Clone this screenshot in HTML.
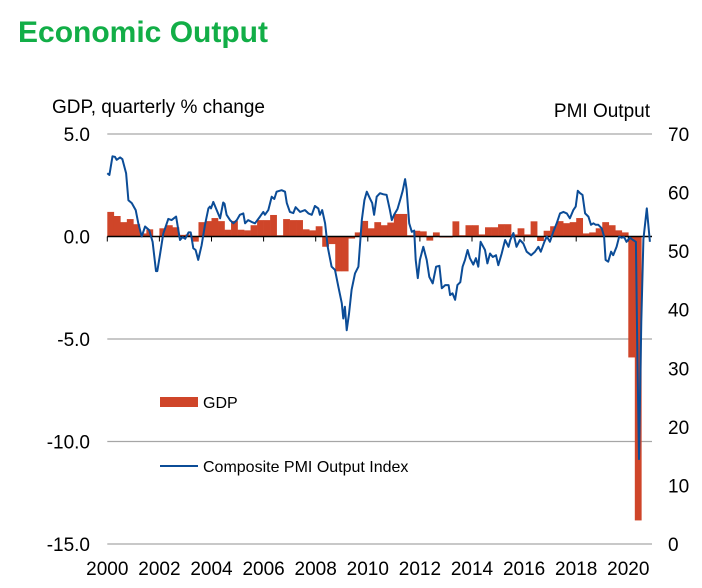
<!DOCTYPE html>
<html><head><meta charset="utf-8"><style>
html,body{margin:0;padding:0;background:#fff;}
svg{display:block;font-family:"Liberation Sans",Arial,sans-serif;}
</style></head><body>
<svg id="chart" width="702" height="588" viewBox="0 0 702 588" xmlns="http://www.w3.org/2000/svg">
<text x="18" y="42" font-size="30" font-weight="bold" fill="#12AE47">Economic Output</text>
<text x="52" y="113" font-size="19" fill="#000">GDP, quarterly % change</text>
<text x="650" y="117" font-size="19" fill="#000" text-anchor="end">PMI Output</text>
<g id="grid"></g><g id="bars"></g><g id="zero"></g><g id="line"></g><g id="axes"></g>
<g>
<rect x="160" y="397" width="38" height="10" fill="#CF4529"/>
<text x="203" y="408" font-size="16">GDP</text>
<line x1="160" y1="466" x2="198" y2="466" stroke="#0B4C97" stroke-width="2"/>
<text x="203" y="472" font-size="16">Composite PMI Output Index</text>
</g>
</svg>
<script>
const gdpStartYear = 2000;
const gdpValues = [1.2,1.0,0.7,0.85,0.6,0.15,0.35,0.0,0.4,0.55,0.45,0.08,0.1,-0.25,0.7,0.75,
0.9,0.75,0.33,0.76,0.33,0.3,0.55,0.8,0.8,1.05,0.06,0.85,0.8,0.8,0.35,0.3,
0.5,-0.5,-0.37,-1.7,-1.7,-0.1,0.2,0.76,0.4,0.7,0.55,0.68,1.1,1.1,0.06,0.28,
0.25,-0.2,0.2,-0.05,-0.05,0.74,0.06,0.55,0.55,0.1,0.45,0.45,0.6,0.6,0.1,0.4,
0.1,0.74,-0.22,0.28,0.5,0.75,0.65,0.7,0.9,0.15,0.2,0.4,0.7,0.55,0.3,0.2,
-5.9,-13.85];
const pmiDates = [2000.0,2000.08,2000.2,2000.29,2000.36,2000.49,2000.58,2000.72,2000.81,2000.94,2001.09,2001.19,2001.32,2001.45,2001.61,2001.74,2001.87,2001.92,2002.02,2002.15,2002.34,2002.47,2002.64,2002.79,2002.89,2002.99,2003.12,2003.2,2003.3,2003.39,2003.49,2003.62,2003.75,2003.88,2003.94,2003.98,2004.07,2004.2,2004.33,2004.45,2004.5,2004.58,2004.71,2004.84,2004.97,2005.09,2005.22,2005.29,2005.41,2005.54,2005.67,2005.86,2005.99,2006.05,2006.18,2006.31,2006.41,2006.5,2006.69,2006.82,2006.89,2007.01,2007.14,2007.23,2007.4,2007.59,2007.72,2007.85,2007.97,2008.1,2008.16,2008.25,2008.36,2008.46,2008.61,2008.74,2008.87,2009.0,2009.06,2009.12,2009.19,2009.28,2009.38,2009.51,2009.64,2009.77,2009.87,2009.96,2010.08,2010.17,2010.24,2010.34,2010.47,2010.6,2010.72,2010.85,2010.92,2011.01,2011.14,2011.26,2011.34,2011.43,2011.49,2011.59,2011.69,2011.78,2011.84,2011.92,2012.0,2012.13,2012.26,2012.36,2012.49,2012.62,2012.75,2012.84,2012.97,2013.1,2013.16,2013.25,2013.35,2013.44,2013.55,2013.64,2013.73,2013.83,2013.92,2014.05,2014.15,2014.24,2014.33,2014.5,2014.59,2014.69,2014.8,2014.92,2015.01,2015.14,2015.27,2015.4,2015.47,2015.59,2015.71,2015.84,2015.97,2016.1,2016.27,2016.42,2016.55,2016.64,2016.78,2016.87,2016.99,2017.12,2017.25,2017.38,2017.51,2017.64,2017.76,2017.89,2017.98,2018.06,2018.15,2018.24,2018.34,2018.47,2018.57,2018.66,2018.75,2018.85,2018.98,2019.07,2019.13,2019.23,2019.34,2019.42,2019.55,2019.65,2019.74,2019.84,2019.93,2020.06,2020.18,2020.29,2020.35,2020.41,2020.5,2020.58,2020.71,2020.83];
const pmiValues = [63.3,63.0,66.2,66.1,65.6,66.0,65.7,63.3,58.7,58.2,57.0,54.75,52.5,54.2,53.6,51.6,46.6,46.6,49.3,53.0,55.5,55.3,55.9,51.9,52.4,52.1,53.2,53.2,50.5,50.2,48.5,51.0,54.5,57.3,57.6,57.3,58.4,57.0,55.6,58.3,58.1,56.2,55.3,54.75,55.3,56.2,56.45,54.75,55.3,55.0,54.75,55.9,56.7,56.2,57.0,59.3,58.9,60.15,60.4,60.15,58.2,56.7,56.5,57.5,56.7,57.0,56.45,56.2,57.7,57.3,56.2,57.0,54.75,50.75,47.35,46.8,43.9,41.1,38.5,40.5,36.5,39.3,43.4,46.2,47.35,55.3,58.7,60.15,59.0,58.2,56.2,59.3,59.9,59.7,59.6,57.0,55.3,56.2,57.2,59.0,60.3,62.3,60.6,54.75,53.3,53.5,48.5,45.4,48.5,50.75,48.5,45.6,44.5,47.35,47.5,43.65,44.2,44.2,42.5,42.8,41.7,44.2,44.7,47.35,48.5,50.2,48.8,47.7,48.8,47.35,51.6,50.2,47.9,49.6,49.0,49.3,47.6,49.6,51.9,50.75,51.9,53.1,50.75,51.9,51.3,49.9,49.3,49.9,50.75,49.9,51.6,52.5,51.6,53.3,54.75,56.45,56.7,56.45,55.6,57.0,57.6,60.3,59.9,59.6,56.45,55.9,54.5,54.75,54.5,54.5,53.9,52.5,48.5,48.2,49.9,49.3,50.75,52.5,52.3,52.4,51.6,52.3,51.9,51.6,32.0,14.5,38.0,52.0,57.3,51.6];
const leftTicks = [5,0,-5,-10,-15];
const leftTickLabels = ["5.0","0.0","-5.0","-10.0","-15.0"];
const rightTicks = [70,60,50,40,30,20,10,0];
const xTicks = [2000,2002,2004,2006,2008,2010,2012,2014,2016,2018,2020];

const NS="http://www.w3.org/2000/svg";
const X0=107.3, X1=652, YEARW=26.05;
const xs = t => X0 + (t-2000)*YEARW;
const yL = v => 134 + (5-v)*20.5;
const yR = v => 134 + (70-v)*(410/70);
function mk(tag, attrs, parent){const e=document.createElementNS(NS,tag);for(const k in attrs)e.setAttribute(k,attrs[k]);parent.appendChild(e);return e;}
const grid=document.getElementById('grid'), bars=document.getElementById('bars'), zero=document.getElementById('zero'), line=document.getElementById('line'), axes=document.getElementById('axes');

leftTicks.forEach((v,i)=>{
  if(v!==0){const g=mk('line',{x1:X0,x2:X1,y1:yL(v),y2:yL(v),stroke:'#A6A6A6','stroke-width':1.3},grid);
  
  }
  const t=mk('text',{x:90,y:yL(v)+7,'font-size':19,'text-anchor':'end'},axes);
  t.textContent=leftTickLabels[i];
  
  
});
rightTicks.forEach(v=>{
  const t=mk('text',{x:668,y:yR(v)+7,'font-size':19},axes);
  t.textContent=String(v);
  
  
});
xTicks.forEach(v=>{
  const t=mk('text',{x:xs(v),y:575,'font-size':19,'text-anchor':'middle'},axes);
  t.textContent=String(v);
  
  
  const k=mk('line',{x1:xs(v),x2:xs(v),y1:yL(0),y2:yL(0)+5,stroke:'#000','stroke-width':1},zero);
  
  
});
gdpValues.forEach((v,i)=>{
  const a=xs(gdpStartYear+i/4), b=xs(gdpStartYear+(i+1)/4);
  const y0=yL(0), y1=yL(v);
  const r=mk('rect',{x:a,width:b-a+0.3,y:Math.min(y0,y1),height:Math.abs(y1-y0),fill:'#CF4529'},bars);
  
  
});
const zl=mk('line',{x1:X0,x2:X1,y1:yL(0),y2:yL(0),stroke:'#000','stroke-width':1.5},zero);


const pts=pmiDates.map((d,i)=>xs(d).toFixed(1)+','+yR(pmiValues[i]).toFixed(1)).join(' ');
const pl=mk('polyline',{points:pts,fill:'none',stroke:'#0B4C97','stroke-width':2,'stroke-linejoin':'round'},line);


</script>
</body></html>
